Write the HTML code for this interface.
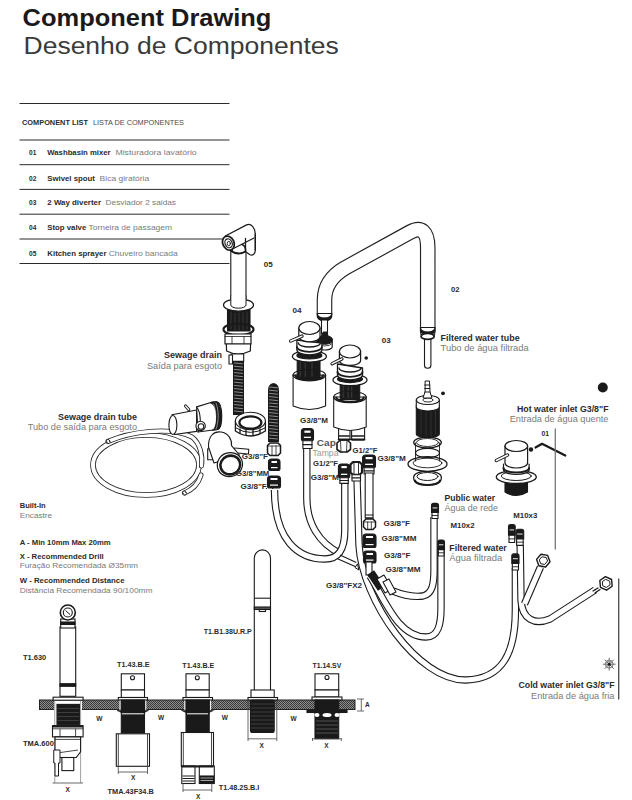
<!DOCTYPE html>
<html><head><meta charset="utf-8">
<style>
.k{fill:#fff;stroke:#1a1a1a;stroke-width:1.1}
html,body{margin:0;padding:0;background:#fff;width:632px;height:800px;overflow:hidden}
svg{display:block;position:absolute;left:0;top:0}
text{font-family:"Liberation Sans",sans-serif}
.b{font-weight:bold;fill:#2b2b2b}
.r{fill:#7a7a7a}
</style></head><body>
<svg width="632" height="800" viewBox="0 0 632 800">
<!-- header -->
<text x="22.6" y="25.6" class="b" style="font-size:23.3px;fill:#1a1a1a" textLength="248.8" lengthAdjust="spacingAndGlyphs">Component Drawing</text>
<text x="23.5" y="53.6" style="font-size:23px;fill:#3a3a3a" textLength="315.3" lengthAdjust="spacingAndGlyphs">Desenho de Componentes</text>
<!-- list -->
<g stroke="#2b2b2b" stroke-width="1">
<line x1="19.5" y1="103.5" x2="229.5" y2="103.5"/>
<line x1="19.5" y1="140" x2="229.5" y2="140"/>
<line x1="19.5" y1="164.7" x2="229.5" y2="164.7"/>
<line x1="19.5" y1="189.4" x2="229.5" y2="189.4"/>
<line x1="19.5" y1="214.2" x2="229.5" y2="214.2"/>
<line x1="19.5" y1="239" x2="229.5" y2="239"/>
<line x1="19.5" y1="263.5" x2="229.5" y2="263.5"/>
</g>
<g style="font-size:7.4px">
<text x="22" y="125.2" class="b" textLength="66" lengthAdjust="spacingAndGlyphs">COMPONENT LIST</text>
<text x="93" y="125.2" class="r" style="fill:#4a4a4a" textLength="91" lengthAdjust="spacingAndGlyphs">LISTA DE COMPONENTES</text>
<text x="29" y="154.9" class="b" textLength="7.3" lengthAdjust="spacingAndGlyphs">01</text>
<text x="47.3" y="154.9" class="b" textLength="63.3" lengthAdjust="spacingAndGlyphs">Washbasin mixer</text>
<text x="115.4" y="154.9" class="r" textLength="81.3" lengthAdjust="spacingAndGlyphs">Misturadora lavatório</text>
<text x="29" y="180.6" class="b" textLength="7.3" lengthAdjust="spacingAndGlyphs">02</text>
<text x="47.3" y="180.6" class="b" textLength="47.5" lengthAdjust="spacingAndGlyphs">Swivel spout</text>
<text x="99.6" y="180.6" class="r" textLength="49.6" lengthAdjust="spacingAndGlyphs">Bica giratória</text>
<text x="29" y="204.9" class="b" textLength="7.3" lengthAdjust="spacingAndGlyphs">03</text>
<text x="47.3" y="204.9" class="b" textLength="53.7" lengthAdjust="spacingAndGlyphs">2 Way diverter</text>
<text x="105.6" y="204.9" class="r" textLength="70.4" lengthAdjust="spacingAndGlyphs">Desviador 2 saidas</text>
<text x="29" y="230.2" class="b" textLength="7.3" lengthAdjust="spacingAndGlyphs">04</text>
<text x="47.3" y="230.2" class="b" textLength="39" lengthAdjust="spacingAndGlyphs">Stop valve</text>
<text x="88.5" y="230.2" class="r" textLength="83.5" lengthAdjust="spacingAndGlyphs">Torneira de passagem</text>
<text x="29" y="255.6" class="b" textLength="7.3" lengthAdjust="spacingAndGlyphs">05</text>
<text x="47.3" y="255.6" class="b" textLength="59.2" lengthAdjust="spacingAndGlyphs">Kitchen sprayer</text>
<text x="108.7" y="255.6" class="r" textLength="69" lengthAdjust="spacingAndGlyphs">Chuveiro bancada</text>
</g>


<!-- ========== ELEVATION ========== -->
<defs>
<pattern id="hatch" width="2" height="2" patternUnits="userSpaceOnUse">
<rect width="2" height="2" fill="#8c8c8c"/>
<rect width="1" height="1" fill="#3a3a3a"/>
<rect x="1" y="1" width="1" height="1" fill="#3a3a3a"/>
</pattern>
</defs>
<rect x="39.5" y="700" width="315.5" height="9.5" fill="url(#hatch)" stroke="#222" stroke-width="1"/>
<g class="k">
<!-- T1.630 sprayer -->
<rect x="60" y="627" width="15.7" height="69.3"/>
<rect x="60" y="683.7" width="15.7" height="2.6" fill="#1a1a1a"/>
<rect x="60.7" y="619" width="14.3" height="9"/>
<rect x="60.7" y="622" width="14.3" height="2.5" fill="#1a1a1a"/>
<circle cx="67.8" cy="612.5" r="7.5" stroke-width="1.6"/>
<circle cx="67.8" cy="612.5" r="4.5"/>
<path d="M65.5,610.5 L70,614.5" stroke-width="1"/>
<rect x="54" y="700.5" width="28" height="9.5" fill="#fff" stroke="none"/>
<path d="M54.75,700 V783 M80.6,700 V783" stroke="#888" stroke-width="0.8"/>
<rect x="53.1" y="697.2" width="30" height="3"/>
<rect x="57" y="704.4" width="22.4" height="20" fill="#1a1a1a"/>
<path d="M57.5,708.5h21.5M57.5,712.5h21.5M57.5,716.5h21.5M57.5,720.5h21.5" stroke="#555" stroke-width="0.6"/>
<rect x="52.5" y="725.6" width="30.6" height="11.3"/>
<path d="M52.5,726.5h30.6" stroke-width="2"/>
<path d="M52.5,728.8h30.6M60,728.8V737M75.6,728.8V737" fill="none" stroke-width="0.8"/>
<path d="M55,736.9 H80.6 V751.9 L76.2,757.5 H58.8 L55,751.9 Z"/>
<path d="M55,739.4h25.6M57,753 L78,750" fill="none" stroke-width="0.8"/>
<rect x="61.9" y="757.5" width="11.85" height="13.1"/>
<path d="M53.75,750 H60 V763 H58.5 V776 H55 V763 H53.75 Z" stroke-width="1"/>
</g>
<!-- T1.43.B.E 1 -->
<g class="k">
<rect x="121.3" y="673.8" width="23.2" height="16.2"/>
<circle cx="132.5" cy="677.8" r="2"/>
<rect x="121.3" y="690" width="23.2" height="7.5"/>
<rect x="118.3" y="697.5" width="29.2" height="2.5"/>
<rect x="121.3" y="700" width="23.2" height="33" fill="#1a1a1a"/>
<path d="M122,713.8h21.8" stroke="#fff" stroke-width="1"/>
<path d="M120,700.5v10.5M145.8,700.5v10.5" stroke="#fff" stroke-width="1"/>
<path d="M117,710.5 L121.3,710.5 L121.3,712.5 Z M148.5,710.5 L144.5,710.5 L144.5,712.5 Z" fill="#1a1a1a" stroke-width="0.6"/>
<rect x="116.3" y="733.8" width="33.2" height="32.5"/>
<path d="M118.3,734 L118.3,766 M147.5,734 L147.5,766" stroke-width="0.8"/>
</g>
<!-- T1.43.B.E 2 -->
<g class="k">
<rect x="186" y="673.8" width="23.2" height="16.2"/>
<circle cx="197.3" cy="677.8" r="2"/>
<rect x="186" y="690" width="23.2" height="7.5"/>
<rect x="183" y="697.5" width="29.5" height="2.5"/>
<rect x="186" y="700" width="23.2" height="32.5" fill="#1a1a1a"/>
<path d="M187,713.8h21" stroke="#fff" stroke-width="1"/>
<path d="M184.8,700.5v10.5M210.6,700.5v10.5" stroke="#fff" stroke-width="1"/>
<path d="M181.5,710.5 L186,710.5 L186,712.5 Z M213.5,710.5 L209.2,710.5 L209.2,712.5 Z" fill="#1a1a1a" stroke-width="0.6"/>
<rect x="181.3" y="732.5" width="32.2" height="33.7"/>
<path d="M183.3,733 L183.3,766 M211.5,733 L211.5,766" stroke-width="0.8"/>
<rect x="181.8" y="766" width="13.2" height="17.5"/>
<rect x="199.3" y="766" width="15" height="17.5"/>
<path d="M181.3,766.5h32.2" stroke-width="1.8"/>
<path d="M182.5,776h12M182.5,778.5h12M182.5,781h12" stroke-width="1"/>
<rect x="200" y="776" width="13.5" height="6.5" fill="#1a1a1a"/>
<path d="M200.5,778h12.5M200.5,780.5h12.5" stroke="#fff" stroke-width="0.6"/>
</g>
<!-- T1.B1.38U.R.P spout -->
<g class="k">
<path d="M254.3,690 L254.3,558 A8.1,8.1 0 0 1 270.5,558 L270.5,690"/>
<path d="M254.3,598.2 L270.5,598.2"/>
<rect x="254.3" y="607" width="16.2" height="2.5" fill="#555"/>
<rect x="259.3" y="609.5" width="6.2" height="2"/>
<rect x="251" y="690" width="23.2" height="7.5"/>
<rect x="248" y="697.5" width="29.5" height="2.5"/>
<rect x="250.5" y="700" width="23.7" height="32.5" fill="#1a1a1a" rx="2"/>
<path d="M251,704h23M251,708h23M251,712h23M251,716h23M251,720h23M251,724h23M251,728h23" stroke="#555" stroke-width="0.6"/>
</g>
<!-- T1.14.SV -->
<g class="k">
<rect x="315" y="673.8" width="23.7" height="16.2"/>
<circle cx="327" cy="677.5" r="2"/>
<rect x="315" y="690" width="23.7" height="7"/>
<rect x="312" y="697" width="30" height="3"/>
<rect x="315" y="700" width="23.7" height="38.7" fill="#1a1a1a"/>
<rect x="307" y="710.5" width="40" height="2" fill="#1a1a1a"/>
<path d="M316,721h22M316,725h22M316,729h22M316,733h22" stroke="#777" stroke-width="0.6"/>
<ellipse cx="317" cy="715" rx="2.5" ry="2" fill="#fff" stroke="none"/>
<ellipse cx="327" cy="715" rx="4.5" ry="2" fill="#fff" stroke="none"/>
<ellipse cx="337" cy="715" rx="2.5" ry="2" fill="#fff" stroke="none"/>
</g>
<!-- dimension lines -->
<g stroke="#444" stroke-width="0.8" fill="none">
<path d="M52.5,783h30.6"/>
<path d="M118.3,766 L118.3,774 M147.5,766 L147.5,774 M118.3,772 L147.5,772"/>
<path d="M183,783 L183,792 M211.8,783 L211.8,792 M183,790 L211.8,790"/>
<path d="M248,700 L248,741 M276.8,700 L276.8,741 M248,738.8 L276.8,738.8"/>
<path d="M312.5,738 L312.5,741 M341.3,738 L341.3,741 M312.5,738.8 L341.3,738.8"/>
<path d="M361.3,699 L361.3,711 M357,699 L364,699 M357,711 L364,711"/>
</g>
<!-- ========== DRAWING ========== -->
<g id="draw" stroke-linejoin="round" stroke-linecap="round">
<!-- coil hose -->
<g fill="none">
<ellipse cx="146" cy="465" rx="53" ry="30" stroke="#222" stroke-width="5.6"/>
<ellipse cx="146" cy="465" rx="53" ry="30" stroke="#fff" stroke-width="4"/>
<path d="M108,441.4 C130,432 170,426 192,437 C200,443 203,456 201.5,466" stroke="#222" stroke-width="5"/>
<path d="M108,441.4 C130,432 170,426 192,437 C200,443 203,456 201.5,466" stroke="#fff" stroke-width="3.4"/>
<path d="M184.5,493 C194,489 199,482 201,475" stroke="#222" stroke-width="5"/>
<path d="M184.5,493 C194,489 199,482 201,475" stroke="#fff" stroke-width="3.4"/>
<ellipse cx="108.3" cy="441.5" rx="1.6" ry="2.2" transform="rotate(-20 108.3 441.5)" stroke="#222" stroke-width="0.9" fill="#fff"/>
<ellipse cx="184.6" cy="493" rx="1.6" ry="2.2" transform="rotate(-40 184.6 493)" stroke="#222" stroke-width="0.9" fill="#fff"/>
</g>
<!-- hoses -->
<g stroke-linecap="butt">
<path d="M306.8,446 L306.8,498 C306.8,522 318,543 341,554" fill="none" stroke="#1a1a1a" stroke-width="7.4"/><path d="M306.8,446 L306.8,498 C306.8,522 318,543 341,554" fill="none" stroke="#fff" stroke-width="5.2"/>
<path d="M274.5,490 C274.5,540 298,559 325,559 C339,559 344.8,549 344.8,530 L344.8,480" fill="none" stroke="#1a1a1a" stroke-width="7.4"/><path d="M274.5,490 C274.5,540 298,559 325,559 C339,559 344.8,549 344.8,530 L344.8,480" fill="none" stroke="#fff" stroke-width="5.2"/>
<path d="M337.5,558.8 L357.5,567.5 M340,555 L356.3,562.5" stroke="#1a1a1a" stroke-width="1.1"/><path d="M355,567.5 L357.5,563.8 L358.8,570 Z" fill="#fff" stroke="#1a1a1a" stroke-width="1"/>
<path d="M357,478 L359,545 C362,600 418,681 466,680 C503,679 515.4,652 515.4,610 L515.4,568" fill="none" stroke="#1a1a1a" stroke-width="7.4"/><path d="M357,478 L359,545 C362,600 418,681 466,680 C503,679 515.4,652 515.4,610 L515.4,568" fill="none" stroke="#fff" stroke-width="5.2"/>
<path d="M370,576 C385,600 398,637 426,637 C438,637 441,625 441,608 L441,547" fill="none" stroke="#1a1a1a" stroke-width="7.4"/><path d="M370,576 C385,600 398,637 426,637 C438,637 441,625 441,608 L441,547" fill="none" stroke="#fff" stroke-width="5.2"/>
<path d="M393,591 C405,596 415,597 423,596 C432,594 434,585 434,570 L434,517" fill="none" stroke="#1a1a1a" stroke-width="7.4"/><path d="M393,591 C405,596 415,597 423,596 C432,594 434,585 434,570 L434,517" fill="none" stroke="#fff" stroke-width="5.2"/>
<path d="M520.2,545 L521,600 C522,620 535,625 550,619 L595,590" fill="none" stroke="#1a1a1a" stroke-width="7.4"/><path d="M520.2,545 L521,600 C522,620 535,625 550,619 L595,590" fill="none" stroke="#fff" stroke-width="5.2"/>
<path d="M540.5,567 L524.5,604" fill="none" stroke="#1a1a1a" stroke-width="7.4"/><path d="M540.5,567 L524.5,604" fill="none" stroke="#fff" stroke-width="5.2"/>
<path d="M269.5,488 L269.5,489" fill="none" stroke="#1a1a1a" stroke-width="7.4"/><path d="M269.5,488 L269.5,489" fill="none" stroke="#fff" stroke-width="5.2"/>
</g>
<g class="k">
<!-- G3/8"M single nut -->
<path d="M301.4,431.6 Q301.4,428.6 304.4,428.6 L310.5,428.6 Q313.5,428.6 313.5,431.6 L313.5,438.7 Q313.5,440.7 311.5,440.7 L303.4,440.7 Q301.4,440.7 301.4,438.7 Z" fill="#1a1a1a"/><rect x="304.4" y="430.6" width="6.100000000000023" height="2.2" fill="#fff" stroke="none"/><rect x="303.9" y="436.7" width="7.100000000000023" height="1.3" fill="#fff" stroke="none"/><rect x="302.9" y="440.7" width="9.100000000000023" height="7.800000000000011"/><path d="M302.9,444.6h9.100000000000023" fill="none"/>
<path d="M338.4,467 Q338.4,464 341.4,464 L346.8,464 Q349.8,464 349.8,467 L349.8,475.7 Q349.8,477.7 347.8,477.7 L340.4,477.7 Q338.4,477.7 338.4,475.7 Z" fill="#1a1a1a"/><rect x="341.4" y="466" width="5.400000000000034" height="2.2" fill="#fff" stroke="none"/><rect x="340.9" y="473.7" width="6.400000000000034" height="1.3" fill="#fff" stroke="none"/><rect x="339.9" y="477.7" width="8.400000000000034" height="5.699999999999989"/><path d="M339.9,480.54999999999995h8.400000000000034" fill="none"/>
<path d="M350.5,464.5 L353,462 L359.5,462 L362,464.5 L362,472.5 L359.5,474.8 L353,474.8 L350.5,472.5 Z" stroke-width="2.2"/><path d="M354,462.5v12M358.5,462.5v12" fill="none" stroke-width="0.9"/><rect x="352.0" y="474.8" width="8.5" height="6.199999999999989"/><path d="M352.0,477.9h8.5" fill="none"/>
<path d="M362.6,458 Q362.6,455 365.6,455 L372.5,455 Q375.5,455 375.5,458 L375.5,465.7 Q375.5,467.7 373.5,467.7 L364.6,467.7 Q362.6,467.7 362.6,465.7 Z" fill="#1a1a1a"/><rect x="365.6" y="457" width="6.899999999999977" height="2.2" fill="#fff" stroke="none"/><rect x="365.1" y="463.7" width="7.899999999999977" height="1.3" fill="#fff" stroke="none"/><rect x="364.1" y="467.7" width="9.899999999999977" height="6.300000000000011"/><path d="M364.1,470.85h9.899999999999977" fill="none"/>
<!-- cap nut -->
<path d="M337,443 L340.5,440 L347,440 L350.5,443 L350.5,449.5 L347,452 L340.5,452 L337,449.5 Z" stroke-width="1.6"/><path d="M340.5,440 L341,452 M347,440 L346.5,452" fill="none" stroke-width="0.8"/>
<!-- column -->
<rect x="365.2" y="473" width="7.8" height="45"/>
<path d="M365.5,515h7.5M365.5,518h7.5" stroke-width="1.2"/>
<path d="M363.5,521.5 L366.0,519 L373.0,519 L375.5,521.5 L375.5,527.0 L373.0,529.5 L366.0,529.5 L363.5,527.0 Z" stroke-width="1.5"/><path d="M367.7,522.0v7.5M371.3,522.0v7.5M364.0,522.0h11.0" fill="none" stroke-width="0.8"/>
<path d="M363,537 Q363,534 366,534 L373,534 Q376,534 376,537 L376,545.5 Q376,547.5 374,547.5 L365,547.5 Q363,547.5 363,545.5 Z" fill="#1a1a1a"/><rect x="366" y="536" width="7" height="2" fill="#fff" stroke="none"/><rect x="365.5" y="544.0" width="8" height="1.2" fill="#fff" stroke="none"/>
<path d="M363.5,554 Q363.5,551 366.5,551 L373,551 Q376,551 376,554 L376,561 Q376,563 374,563 L365.5,563 Q363.5,563 363.5,561 Z" fill="#1a1a1a"/><rect x="366.5" y="553" width="6.5" height="2" fill="#fff" stroke="none"/><rect x="366.0" y="559.5" width="7.5" height="1.2" fill="#fff" stroke="none"/>
<rect x="366" y="562" width="6" height="13"/>
<path d="M368,575 L374,571 L384,586 L378,590 Z" fill="#1a1a1a"/>
<path d="M377,579 L384,575 L392,589 L385,593 Z"/>
<path d="M383,582 L389,579 L396,592 L390,595 Z"/>
<!-- public water fitting -->
<path d="M431.5,505.4 Q431.5,503.4 433.5,503.4 L436.5,503.4 Q438.5,503.4 438.5,505.4 L438.5,512.46 L431.5,512.46 Z" fill="#1a1a1a"/><path d="M433.0,507.93h4.0" stroke="#fff" stroke-width="0.9"/><rect x="432.0" y="512.46" width="6.0" height="6.04000000000001"/><path d="M432.0,515.48h6.0" fill="none" stroke-width="0.9"/>
<path d="M437.8,542 Q437.8,540 439.8,540 L442.5,540 Q444.5,540 444.5,542 L444.5,549.6 L437.8,549.6 Z" fill="#1a1a1a"/><path d="M439.3,544.8h3.6999999999999886" stroke="#fff" stroke-width="0.9"/><rect x="438.3" y="549.6" width="5.699999999999989" height="6.4"/><path d="M438.3,552.8h5.699999999999989" fill="none" stroke-width="0.9"/>
<path d="M508.5,526.5 Q508.5,524.5 510.5,524.5 L513.2,524.5 Q515.2,524.5 515.2,526.5 L515.2,535.3 L508.5,535.3 Z" fill="#1a1a1a"/><path d="M510.0,529.9h3.7000000000000455" stroke="#fff" stroke-width="0.9"/><rect x="509.0" y="535.3" width="5.7000000000000455" height="7.2"/><path d="M509.0,538.9h5.7000000000000455" fill="none" stroke-width="0.9"/>
<path d="M516.1,531.2 Q516.1,529.2 518.1,529.2 L521.7,529.2 Q523.7,529.2 523.7,531.2 L523.7,538.92 L516.1,538.92 Z" fill="#1a1a1a"/><path d="M517.6,534.0600000000001h4.600000000000023" stroke="#fff" stroke-width="0.9"/><rect x="516.6" y="538.92" width="6.600000000000023" height="6.479999999999973"/><path d="M516.6,542.16h6.600000000000023" fill="none" stroke-width="0.9"/>
<path d="M511.8,555.9 Q511.8,553.9 513.8,553.9 L517,553.9 Q519,553.9 519,555.9 L519,563.56 L511.8,563.56 Z" fill="#1a1a1a"/><path d="M513.3,558.73h4.199999999999989" stroke="#fff" stroke-width="0.9"/><rect x="512.3" y="563.56" width="6.199999999999989" height="6.440000000000009"/><path d="M512.3,566.78h6.199999999999989" fill="none" stroke-width="0.9"/>
<!-- cold nuts -->
<polygon points="550.00,561.78 545.63,566.99 538.93,565.81 536.60,559.42 540.97,554.21 547.67,555.39" stroke-width="1.4"/><polygon points="547.32,561.31 544.70,564.43 540.68,563.73 539.28,559.89 541.90,556.77 545.92,557.47" fill="none" stroke-width="1"/>
<polygon points="612.16,586.27 606.59,590.17 600.43,587.30 599.84,580.53 605.41,576.63 611.57,579.50" stroke-width="1.4"/><polygon points="609.70,585.12 606.36,587.46 602.66,585.74 602.30,581.68 605.64,579.34 609.34,581.06" fill="none" stroke-width="1"/>
<path d="M593,591 L598,588 M595,593 L600,589.5" stroke-width="1.3"/>
</g>
<!-- spout 02 -->
<g fill="none">
<path d="M324.5,314 L324.5,300 C324.5,285 333,275 345,268 L410,232.2 C421,226 427.75,231 427.75,248 L427.75,332" stroke="#222" stroke-width="15.6"/>
<path d="M324.5,314 L324.5,300 C324.5,285 333,275 345,268 L410,232.2 C421,226 427.75,231 427.75,248 L427.75,332" stroke="#fff" stroke-width="13.3"/>
</g>
<g class="k">
<path d="M316.7,313 L316.7,316 C316.7,323 332.3,323 332.3,316 L332.3,313 Z" fill="#1a1a1a" stroke="none"/>
<path d="M318,314 C318,318.5 331,318.5 331,314 Z" fill="#fff" stroke="none"/>
<path d="M419.9,327 L419.9,330 C419.9,337 435.5,337 435.5,330 L435.5,327 Z" fill="#1a1a1a" stroke="none"/>
<path d="M421.2,328 C421.2,332.5 434.2,332.5 434.2,328 Z" fill="#fff" stroke="none"/>
<rect x="424.5" y="336" width="6.4" height="32.3" rx="3"/>
<ellipse cx="427.6" cy="336.4" rx="6.5" ry="3" stroke-width="1.8"/>
</g>
<!-- sprayer 05 -->
<g class="k">
<rect x="230.8" y="250" width="15.2" height="50"/>
<path d="M225.3,236 L246.6,224.9 C251,222.5 255.3,228 255.3,234 L255.3,250 C255.3,254.5 252.5,256 249.5,254.5 L245.5,251.5 L240,253.5 L233,252 Z" stroke-width="1.2"/>
<path d="M234,248.2 L254,238" fill="none"/>
<path d="M231,251 Q238,256 245.5,251.5 Q246,246 242,244.5" fill="none" stroke-width="1.6"/>
<path d="M245.5,238.5 L245.5,251.5 M255.3,234 L255.3,250" fill="none" stroke-width="1.3"/>
<ellipse cx="228.4" cy="243.1" rx="5.6" ry="7.3" transform="rotate(-25 228.4 243.1)" stroke-width="1.8"/>
<ellipse cx="228.6" cy="243.3" rx="3.5" ry="4.6" transform="rotate(-25 228.6 243.3)" stroke-width="1.2"/>
<ellipse cx="228.8" cy="243.5" rx="1.6" ry="2.2" fill="none" stroke-width="0.9"/>
<rect x="227.5" y="309" width="22.5" height="22" fill="#1a1a1a"/>
<path d="M231,312v17M235,313v17M239,313v17M243,313v17M247,312v17" stroke="#555" stroke-width="0.5"/>
<ellipse cx="238.5" cy="305" rx="15" ry="6.2" stroke-width="1.3"/>
<path d="M230.8,296 L230.8,305 A7.6,3.2 0 0 0 246,305 L246,296" fill="#fff" stroke-width="1"/>
<ellipse cx="238.5" cy="329.4" rx="15" ry="5.8" fill="none" stroke-width="2.2"/>
<rect x="225" y="334" width="26" height="10" stroke-width="1.2"/>
<path d="M225,336.5h26M232,336.5v7.5M244,336.5v7.5" fill="none" stroke-width="0.8"/>
<path d="M226.3,344 L250.6,344 L250.3,351 Q238,357 226.6,351 Z" stroke-width="1.2"/>
<rect x="231" y="354" width="12.7" height="7.3"/>
<rect x="229" y="355" width="3.5" height="9"/>
</g>
<rect x="233" y="361" width="11" height="54" fill="#1a1a1a" stroke="none"/>
<g stroke="#aaa" stroke-width="0.8"><path d="M234.5,363.0L242.5,363.8M234.5,366.2L242.5,367.0M234.5,369.4L242.5,370.2M234.5,372.6L242.5,373.4M234.5,375.8L242.5,376.6M234.5,379.0L242.5,379.8M234.5,382.2L242.5,383.0M234.5,385.4L242.5,386.2M234.5,388.6L242.5,389.4M234.5,391.8L242.5,392.6M234.5,395.0L242.5,395.8M234.5,398.2L242.5,399.0M234.5,401.4L242.5,402.2M234.5,404.6L242.5,405.4M234.5,407.8L242.5,408.6M234.5,411.0L242.5,411.8"/></g>
<!-- second threaded hose -->
<path d="M268,442 L268,390 Q268,384 273.5,383 Q279,384 279,390 L279,442 Z" fill="#1a1a1a"/>
<g stroke="#aaa" stroke-width="0.8"><path d="M269.5,387.0L277.5,387.8M269.5,390.2L277.5,391.0M269.5,393.4L277.5,394.2M269.5,396.6L277.5,397.4M269.5,399.8L277.5,400.6M269.5,403.0L277.5,403.8M269.5,406.2L277.5,407.0M269.5,409.4L277.5,410.2M269.5,412.6L277.5,413.4M269.5,415.8L277.5,416.6M269.5,419.0L277.5,419.8M269.5,422.2L277.5,423.0M269.5,425.4L277.5,426.2M269.5,428.6L277.5,429.4M269.5,431.8L277.5,432.6M269.5,435.0L277.5,435.8M269.5,438.2L277.5,439.0"/></g>

<g class="k">
<path d="M267.5,445.5 L270.0,443 L278.0,443 L280.5,445.5 L280.5,453.0 L278.0,455.5 L270.0,455.5 L267.5,453.0 Z" stroke-width="1.5"/><path d="M272.0,446.0v9.5M276.0,446.0v9.5M268.0,446.0h12.0" fill="none" stroke-width="0.8"/>
<path d="M268.5,462 Q268.5,459 271.5,459 L277,459 Q280,459 280,462 L280,468.5 Q280,470.5 278,470.5 L270.5,470.5 Q268.5,470.5 268.5,468.5 Z" fill="#1a1a1a"/><rect x="271.5" y="461" width="5.5" height="2" fill="#fff" stroke="none"/><rect x="271.0" y="467.0" width="6.5" height="1.2" fill="#fff" stroke="none"/>
<path d="M267.5,479 Q267.5,476 270.5,476 L277.5,476 Q280.5,476 280.5,479 L280.5,486 Q280.5,488 278.5,488 L269.5,488 Q267.5,488 267.5,486 Z" fill="#1a1a1a"/><rect x="270.5" y="478" width="7.0" height="2" fill="#fff" stroke="none"/><rect x="270.0" y="484.5" width="8.0" height="1.2" fill="#fff" stroke="none"/>
</g>
<!-- ring nut -->
<g class="k">
<path d="M235.4,421 L235.4,431 Q250.4,441 265.4,431 L265.4,421 Z" stroke-width="1.3"/>
<path d="M236,428 Q250.4,437 265,428" fill="none" stroke-width="1"/>
<path d="M240,429v4M246,430v5M253,430v5M260,429v4" stroke-width="1.3"/>
<ellipse cx="250.4" cy="421" rx="15" ry="8.7"/>
<ellipse cx="250.4" cy="422.5" rx="11" ry="6.2" stroke-width="2.2"/>
</g>
<!-- T fitting -->
<g class="k">
<path d="M172,414.8 L196.6,410 L196.6,431.4 L174.5,434.5 Z"/>
<ellipse cx="172.9" cy="425" rx="4" ry="9.5"/>
<path d="M196.6,406.9 L212.5,402 L217,401.8 C223,403 223.5,428 217.5,429.5 L213,430 L198,432 Z"/>
<path d="M210.5,402.6 L216,401.8 C222.5,403 223,428 217.5,429.5 L212.5,430.2 C218,428 218.5,405 210.5,402.6 Z" fill="#1a1a1a"/>
<path d="M213.5,404 C216.5,410 216.5,422 213.5,429 M216,403 C219,410 219,422 216,429" fill="none" stroke="#fff" stroke-width="0.5"/>
<path d="M196.6,407 C201,412 201.5,426 198,432" fill="none"/>
<circle cx="200.6" cy="425.9" r="4.7"/>
<circle cx="201" cy="426.5" r="2.8"/>
<path d="M185.6,406 L188.7,409.5" stroke-width="3.2"/>
<path d="M185.6,406 L188.7,409.5" stroke="#fff" stroke-width="1.2"/>
</g>
<!-- elbow fitting -->
<g class="k">
<rect x="234.6" y="448" width="14.3" height="4.8" transform="rotate(5 234.6 448)"/>
<rect x="207.7" y="448.8" width="5" height="11"/>
<path d="M208.5,447 C208,436 214,431 221,432 C228,433 232,439 231.5,445.6 L239.4,455 L214,463 Z"/>
<ellipse cx="229.9" cy="464.6" rx="12.7" ry="11.9" transform="rotate(-20 229.9 464.6)" stroke-width="1.2"/>
<ellipse cx="230.3" cy="465" rx="10" ry="9.3" transform="rotate(-20 230.3 465)" stroke-width="2.6"/>
</g>
<!-- valve 04 -->
<g class="k">
<rect x="321.5" y="320" width="6" height="14"/>
<path d="M323.4,332 L326.5,332 L328,336 L321.5,336 Z" fill="#1a1a1a"/>
<path d="M317,339 L317,347 A7.6,3 0 0 0 332.2,347 L332.2,339 Z" stroke-width="1.2"/>
<path d="M317,339 A7.6,3.3 0 0 1 332.2,339 L332.2,341 A7.6,3.3 0 0 1 317,341 Z" fill="#1a1a1a" stroke-width="1"/>
<path d="M318,344 A7,2.5 0 0 0 331.6,344" fill="none" stroke-width="0.8"/>
</g>
<g class="k">
<path d="M293.1,375.1 L293.1,406 Q309.4,413 325.6,406 L325.6,375.1 Z"/>
<rect x="297.2" y="358" width="22.80000000000001" height="20.399999999999977" fill="#1a1a1a"/>
<path d="M300.2,362v14.399999999999977M305.2,363v13.399999999999977M312,363v13.399999999999977" stroke="#555" stroke-width="0.6"/>
<path d="M293.1,375.1 A16.25,5.7 0 0 0 325.6,375.1" fill="none" stroke-width="1.3"/>
<path d="M295.6,375.6 A13.75,4.2 0 0 0 323.1,375.6" fill="none" stroke-width="2"/>
<path d="M293.1,375.1 A16.25,5.7 0 0 1 325.6,375.1" fill="none" stroke-width="1.1"/>
<ellipse cx="309.4" cy="356.4" rx="17" ry="5.7" stroke-width="1.3"/>
<ellipse cx="309.4" cy="355.4" rx="12.5" ry="3.6" fill="#1a1a1a"/>
<path d="M296.9,340.0 L296.9,350.0 A12.5,4.8 0 0 0 321.9,350.0 L321.9,343.0 Z" stroke-width="1.3"/>
<path d="M296.9,347.0 A12.5,4.8 0 0 0 321.9,347.0" fill="none" stroke-width="1.8"/>
<path d="M298.4,343.0 A11,4 0 0 0 320.4,343.0" fill="none" stroke-width="1.3"/>
<path d="M298.79999999999995,328 L298.79999999999995,336.8 A10.6,5 0 0 0 320.0,336.8 L320.0,328 Z" stroke-width="1.2"/>
<ellipse cx="309.4" cy="328" rx="10.6" ry="6.5" stroke-width="1.2"/>
<path d="M290.7,341 L302,336.1" stroke-width="3.4" stroke-linecap="round"/>
<path d="M290.7,341 L302,336.1" stroke="#fff" stroke-width="1.4" stroke-linecap="round"/>
</g>
<g class="k">
<rect x="338.6" y="426" width="11.4" height="14" rx="2"/>
<rect x="351.6" y="426" width="13" height="14" rx="2"/>
<path d="M339,436h10.6M352,436h12" stroke-width="1.3"/>
<path d="M338.8,439.5h11M351.8,439.5h12.6" stroke-width="2.2"/>
</g>
<g class="k">
<path d="M333.7,397 L333.7,427 Q350,434 366.2,427 L366.2,397 Z"/>
<rect x="340.2" y="381.6" width="19.5" height="17.899999999999977" fill="#1a1a1a"/>
<path d="M343.2,385.6v11.899999999999977M348.2,386.6v10.899999999999977M351.7,386.6v10.899999999999977" stroke="#555" stroke-width="0.6"/>
<path d="M333.7,397 A16.25,5.7 0 0 0 366.2,397" fill="none" stroke-width="1.3"/>
<path d="M336.2,397.5 A13.75,4.2 0 0 0 363.7,397.5" fill="none" stroke-width="2"/>
<path d="M333.7,397 A16.25,5.7 0 0 1 366.2,397" fill="none" stroke-width="1.1"/>
<ellipse cx="350" cy="380" rx="17" ry="5.7" stroke-width="1.3"/>
<ellipse cx="350" cy="379" rx="12.5" ry="3.6" fill="#1a1a1a"/>
<path d="M337.5,364.0 L337.5,375.0 A12.5,4.8 0 0 0 362.5,375.0 L362.5,368.0 Z" stroke-width="1.3"/>
<path d="M337.5,372.0 A12.5,4.8 0 0 0 362.5,372.0" fill="none" stroke-width="1.8"/>
<path d="M339.0,368.0 A11,4 0 0 0 361.0,368.0" fill="none" stroke-width="1.3"/>
<path d="M339.4,351.5 L339.4,360.4 A10.6,5 0 0 0 360.6,360.4 L360.6,351.5 Z" stroke-width="1.2"/>
<ellipse cx="350" cy="351.5" rx="10.6" ry="6.5" stroke-width="1.2"/>
<path d="M332.1,363.7 L341.9,358.9" stroke-width="3.4" stroke-linecap="round"/>
<path d="M332.1,363.7 L341.9,358.9" stroke="#fff" stroke-width="1.4" stroke-linecap="round"/>
</g>
<circle cx="366.2" cy="358" r="1.8" fill="#1a1a1a"/>
<!-- filter cartridge -->
<g class="k">
<ellipse cx="427.5" cy="477" rx="13.75" ry="5.8" stroke-width="1.2"/>
<path d="M413.75,477 L413.75,479 A13.75,5.8 0 0 0 441.25,479 L441.25,477" stroke-width="1.2"/>
<path d="M415,480.5 A12.5,4.5 0 0 0 440,480.5" fill="none" stroke-width="2.2"/>
<ellipse cx="427.5" cy="476.5" rx="10.5" ry="4" fill="none" stroke-width="1"/>
<ellipse cx="427.5" cy="464" rx="19.5" ry="7.3" stroke-width="1.3"/>
<ellipse cx="427.5" cy="463" rx="14.5" ry="4.8" fill="none" stroke-width="0.9"/>
<path d="M415.5,443 L415.5,461 M439.5,443 L439.5,461" stroke-width="0.9"/>
<ellipse cx="427.5" cy="453" rx="12" ry="4.6" fill="none" stroke-width="1.1"/>
<ellipse cx="427.5" cy="442.5" rx="13.75" ry="5.5" fill="none" stroke-width="1.4"/>
<ellipse cx="427.5" cy="442.5" rx="11" ry="4" fill="none" stroke-width="0.9"/>
<path d="M416.3,405 L416.3,434 A11.5,3.5 0 0 0 439.3,434 L439.3,405 Z" fill="#1a1a1a"/>
<path d="M421,410v24M426,411v25M431,411v25M435.5,410v24" stroke="#444" stroke-width="0.5"/>
<path d="M416.3,400 L416.3,407 A11.5,4 0 0 0 439.3,407 L439.3,400 Z"/>
<ellipse cx="427.8" cy="400" rx="11.5" ry="4.5"/>
<ellipse cx="427.8" cy="400" rx="5" ry="2" fill="none" stroke-width="0.9"/>
<path d="M425.5,381 L429.5,381 L430,392 L432,398 L423,398 L425,392 Z" stroke-width="1"/>
<path d="M424.8,385h5M424.8,388.5h5M424.8,392h5" stroke-width="1.2"/>
</g>
<circle cx="443" cy="393.3" r="1.9" fill="#1a1a1a"/>
<!-- mixer 01 -->
<g class="k">
<path d="M505,481 L505,492 Q516.3,499 527.5,492 L527.5,481 Z" fill="#1a1a1a"/>
<ellipse cx="516.3" cy="477" rx="20" ry="6.5" stroke-width="1.3"/>
<ellipse cx="516.3" cy="476" rx="15" ry="4.5" fill="none" stroke-width="1"/>
<path d="M503.5,464 L503.5,470 A12.8,4.5 0 0 0 529.1,470 L529.1,464" stroke-width="1.2"/>
<path d="M503.5,468 A12.8,4.5 0 0 0 529.1,468" fill="none" stroke-width="2"/>
<path d="M505,446 L505,463 A11.3,5 0 0 0 527.6,463 L527.6,446 Z" stroke-width="1.2"/>
<ellipse cx="516.3" cy="446" rx="11.3" ry="5.5" stroke-width="1.2"/>
<path d="M496.3,460.5 L507.5,455" stroke-width="3.4"/>
<path d="M496.3,460.5 L507.5,455" stroke="#fff" stroke-width="1.4"/>
</g>
<circle cx="531" cy="449.5" r="2.2" fill="#1a1a1a"/>
<path d="M535.5,447.5 L542,443.8 L565.3,455.5" fill="none" stroke="#1a1a1a" stroke-width="2.2"/>
<circle cx="602.8" cy="387.5" r="5" fill="#1a1a1a"/>
<line x1="555.3" y1="429" x2="555.3" y2="549" stroke="#777" stroke-width="1.3"/>
<line x1="618.7" y1="579" x2="618.7" y2="699" stroke="#555" stroke-width="1.4"/>
<g transform="translate(609.2 664.2)" stroke="#444" stroke-width="0.8" fill="none">
<path d="M-6,0 H6 M0,-6 V6 M-4.3,-4.3 L4.3,4.3 M-4.3,4.3 L4.3,-4.3"/>
<circle r="3.6" stroke="#888" stroke-width="1.6"/>
<circle r="1.5" fill="#1a1a1a" stroke="none"/>
</g>

</g>

<!-- ========== LABELS ========== -->
<g style="font-size:7px">
<text x="263.8" y="267" class="b" style="font-size:8px" textLength="9" lengthAdjust="spacingAndGlyphs">05</text>
<text x="451" y="291.8" class="b" style="font-size:8px" textLength="8.5" lengthAdjust="spacingAndGlyphs">02</text>
<text x="292.5" y="313" class="b" style="font-size:8px" textLength="9" lengthAdjust="spacingAndGlyphs">04</text>
<text x="381.8" y="342.5" class="b" style="font-size:8px" textLength="9" lengthAdjust="spacingAndGlyphs">03</text>
<text x="541.5" y="436.3" class="b" style="font-size:8px" textLength="7.5" lengthAdjust="spacingAndGlyphs">01</text>
<text x="222" y="358" class="b" text-anchor="end" style="font-size:8.2px" textLength="58" lengthAdjust="spacingAndGlyphs">Sewage  drain</text>
<text x="222" y="368.5" class="r" text-anchor="end" style="font-size:8.2px" textLength="75" lengthAdjust="spacingAndGlyphs">Saída para esgoto</text>
<text x="137" y="419.5" class="b" text-anchor="end" style="font-size:8.2px" textLength="79" lengthAdjust="spacingAndGlyphs">Sewage  drain tube</text>
<text x="137" y="429.9" class="r" text-anchor="end" style="font-size:8.2px" textLength="109.3" lengthAdjust="spacingAndGlyphs">Tubo de saída para esgoto</text>
<text x="440.6" y="340.7" class="b" style="font-size:8.2px" textLength="79" lengthAdjust="spacingAndGlyphs">Filtered water tube</text>
<text x="440.6" y="351" class="r" style="font-size:8.2px" textLength="88" lengthAdjust="spacingAndGlyphs">Tubo de água filtrada</text>
<text x="608.5" y="411.8" class="b" text-anchor="end" style="font-size:8.2px" textLength="91.5" lengthAdjust="spacingAndGlyphs">Hot water inlet G3/8"F</text>
<text x="608.5" y="421.8" class="r" text-anchor="end" style="font-size:8.2px" textLength="98.8" lengthAdjust="spacingAndGlyphs">Entrada de água quente</text>
<text x="614.5" y="688" class="b" text-anchor="end" style="font-size:8.2px" textLength="96" lengthAdjust="spacingAndGlyphs">Cold water inlet G3/8"F</text>
<text x="614.5" y="698.8" class="r" text-anchor="end" style="font-size:8.2px" textLength="83.5" lengthAdjust="spacingAndGlyphs">Entrada de água fria</text>
<text x="444.5" y="501.3" class="b" style="font-size:8.2px" textLength="50.5" lengthAdjust="spacingAndGlyphs">Public water</text>
<text x="444.5" y="510.8" class="r" style="font-size:8.2px" textLength="53.5" lengthAdjust="spacingAndGlyphs">Água de rede</text>
<text x="449.3" y="550.8" class="b" style="font-size:8.2px" textLength="57.5" lengthAdjust="spacingAndGlyphs">Filtered water</text>
<text x="449.3" y="561" class="r" style="font-size:8.2px" textLength="53" lengthAdjust="spacingAndGlyphs">Água filtrada</text>
<text x="316.8" y="446" class="b" style="font-size:8.2px;fill:#555" textLength="19" lengthAdjust="spacingAndGlyphs">Cap</text>
<text x="312.5" y="456" class="r" style="font-size:8.2px;fill:#999" textLength="26" lengthAdjust="spacingAndGlyphs">Tampa</text>
<text x="300" y="423" class="b" textLength="28" lengthAdjust="spacingAndGlyphs">G3/8"M</text>
<text x="352.5" y="453" class="b" textLength="25" lengthAdjust="spacingAndGlyphs">G1/2"F</text>
<text x="377.5" y="460.5" class="b" textLength="28.3" lengthAdjust="spacingAndGlyphs">G3/8"M</text>
<text x="313" y="466" class="b" textLength="25" lengthAdjust="spacingAndGlyphs">G1/2"F</text>
<text x="310.8" y="479.5" class="b" textLength="28" lengthAdjust="spacingAndGlyphs">G3/8"M</text>
<text x="241.8" y="459" class="b" textLength="26.2" lengthAdjust="spacingAndGlyphs">G3/8"F</text>
<text x="236" y="476" class="b" textLength="33.3" lengthAdjust="spacingAndGlyphs">G3/8"MM</text>
<text x="240.5" y="489.3" class="b" textLength="26.3" lengthAdjust="spacingAndGlyphs">G3/8"F</text>
<text x="383.5" y="525.5" class="b" textLength="26.5" lengthAdjust="spacingAndGlyphs">G3/8"F</text>
<text x="381.5" y="541.3" class="b" textLength="35" lengthAdjust="spacingAndGlyphs">G3/8"MM</text>
<text x="384" y="558.3" class="b" textLength="26.5" lengthAdjust="spacingAndGlyphs">G3/8"F</text>
<text x="385.5" y="572" class="b" textLength="35" lengthAdjust="spacingAndGlyphs">G3/8"MM</text>
<text x="326" y="587.5" class="b" textLength="36" lengthAdjust="spacingAndGlyphs">G3/8"FX2</text>
<text x="450.5" y="528.3" class="b" textLength="24" lengthAdjust="spacingAndGlyphs">M10x2</text>
<text x="513.3" y="518.3" class="b" textLength="24" lengthAdjust="spacingAndGlyphs">M10x3</text>
<text x="19.7" y="507.6" class="b" textLength="26" lengthAdjust="spacingAndGlyphs">Built-In</text>
<text x="19.7" y="517.5" class="r" textLength="32.5" lengthAdjust="spacingAndGlyphs">Encastre</text>
<text x="19.7" y="545" class="b" textLength="91" lengthAdjust="spacingAndGlyphs">A - Min 10mm Max 20mm</text>
<text x="19.7" y="558.7" class="b" textLength="84" lengthAdjust="spacingAndGlyphs">X - Recommended Drill</text>
<text x="19.7" y="568.3" class="r" textLength="118.3" lengthAdjust="spacingAndGlyphs">Furação Recomendada Ø35mm</text>
<text x="19.7" y="583.2" class="b" textLength="104.8" lengthAdjust="spacingAndGlyphs">W - Recommended Distance</text>
<text x="19.7" y="592.8" class="r" textLength="132.8" lengthAdjust="spacingAndGlyphs">Distância Recomendada 90/100mm</text>
</g>
<g style="font-size:6.5px" class="b">
<text x="23" y="660" textLength="23.3" lengthAdjust="spacingAndGlyphs">T1.630</text>
<text x="23" y="745.8" textLength="30.8" lengthAdjust="spacingAndGlyphs">TMA.600</text>
<text x="117" y="667" textLength="32.5" lengthAdjust="spacingAndGlyphs">T1.43.B.E</text>
<text x="182.3" y="668" textLength="32" lengthAdjust="spacingAndGlyphs">T1.43.B.E</text>
<text x="203.8" y="633.8" textLength="48" lengthAdjust="spacingAndGlyphs">T1.B1.38U.R.P</text>
<text x="312.5" y="667.5" textLength="28.8" lengthAdjust="spacingAndGlyphs">T1.14.SV</text>
<text x="107.5" y="793.8" textLength="46.3" lengthAdjust="spacingAndGlyphs">TMA.43F34.B</text>
<text x="218.8" y="790" textLength="40.5" lengthAdjust="spacingAndGlyphs">T1.48.2S.B.I</text>
<text x="96.3" y="721.3">W</text>
<text x="158" y="720">W</text>
<text x="221.8" y="720">W</text>
<text x="290.5" y="721.3">W</text>
<text x="365" y="707">A</text>
<text x="65.5" y="792">X</text>
<text x="131" y="779.5">X</text>
<text x="196" y="799">X</text>
<text x="259.5" y="748">X</text>
<text x="324.3" y="748">X</text>
</g>
</svg>
</body></html>
